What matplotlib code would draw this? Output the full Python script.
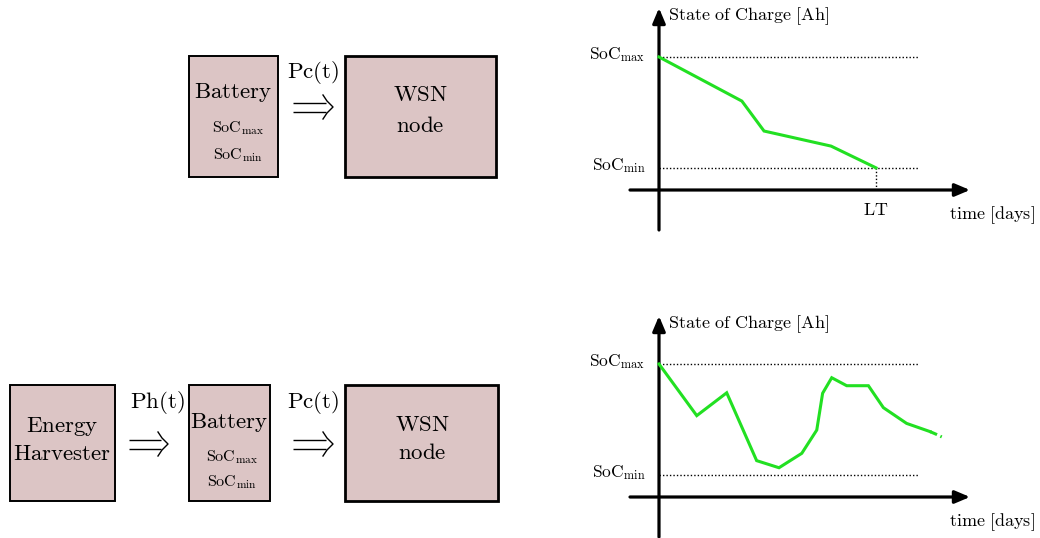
import matplotlib
matplotlib.use("Agg")
import matplotlib.pyplot as plt
from matplotlib.patches import Rectangle

plt.rcParams['mathtext.fontset'] = 'cm'
plt.rcParams['font.family'] = 'serif'
plt.rcParams['font.serif'] = ['cmr10']
plt.rcParams['axes.formatter.use_mathtext'] = True

# chart data (time in days, state of charge in Ah)
soc_max = 6.0
soc_min = 1.0
lt = 10.0
t_battery = [0.0, 3.82, 4.84, 7.93, 10.0]
soc_battery = [6.0, 4.01, 2.66, 1.98, 1.0]
t_harvest = [0.0, 1.74, 3.12, 4.50, 5.53, 6.58, 7.27, 7.54, 7.96, 8.65, 9.65, 10.34, 11.41, 12.49]
soc_harvest = [6.0, 3.67, 4.70, 1.64, 1.32, 1.97, 3.02, 4.68, 5.38, 5.02, 5.02, 4.03, 3.32, 2.95]
t_tail = [12.49, 12.75, 13.03]
soc_tail = [2.95, 2.84, 2.71]

W, H = 1040, 538
fig = plt.figure(figsize=(W / 100, H / 100), dpi=100)

# block diagrams drawn in pixel coordinates
ax0 = fig.add_axes([0, 0, 1, 1])
ax0.set_xlim(0, W)
ax0.set_ylim(H, 0)
ax0.axis('off')

fill = '#dcc5c5'
big = 16.5
small = 11.5


def box(x0, y0, x1, y1, lw):
    ax0.add_patch(Rectangle((x0, y0), x1 - x0, y1 - y0, facecolor=fill, edgecolor='black', lw=lw))


def txt(x, y, s, size=big):
    ax0.text(x, y, s, ha='center', va='center', fontsize=size)


def dbl_arrow(x0, x1, y):
    # latex style long double arrow
    for dy in (-4.5, 4.5):
        ax0.plot([x0, x1 - 7], [y + dy, y + dy], color='black', lw=1.0, solid_capstyle='butt')
    ax0.plot([x1 - 10, x1 - 6, x1, x1 - 6, x1 - 10], [y - 12, y - 6, y, y + 6, y + 12],
             color='black', lw=1.0)


# top diagram
box(189, 56, 278, 177, 1.4)
box(345, 56, 496, 177, 2.0)
txt(233, 93, r'$\mathrm{Battery}$')
txt(238, 128, r'$\mathrm{SoC}_{\mathrm{max}}$', small)
txt(238, 155, r'$\mathrm{SoC}_{\mathrm{min}}$', small)
txt(313, 72, r'$\mathrm{Pc(t)}$')
dbl_arrow(293, 333, 107)
txt(420, 95, r'$\mathrm{WSN}$')
txt(420, 126, r'$\mathrm{node}$')

# bottom diagram
box(10, 385, 115, 501, 1.4)
box(189, 385, 270, 501, 1.4)
box(345, 385, 498, 501, 2.0)
txt(62, 426, r'$\mathrm{Energy}$')
txt(62, 454, r'$\mathrm{Harvester}$')
txt(157, 403, r'$\mathrm{Ph(t)}$')
dbl_arrow(129, 168, 444)
txt(229, 423, r'$\mathrm{Battery}$')
txt(232, 457, r'$\mathrm{SoC}_{\mathrm{max}}$', small)
txt(232, 482, r'$\mathrm{SoC}_{\mathrm{min}}$', small)
txt(313, 403, r'$\mathrm{Pc(t)}$')
dbl_arrow(293, 333, 444)
txt(422, 425, r'$\mathrm{WSN}$')
txt(422, 453, r'$\mathrm{node}$')

# charts
px_day = 21.7
px_ah = 22.17
x_org = 659


def chart(y_org, top, bottom, t, soc, lifetime=False):
    ax = fig.add_axes([580 / W, (H - bottom) / H, 460 / W, (bottom - top) / H])
    ax.set_xlim((580 - x_org) / px_day, (1040 - x_org) / px_day)
    ax.set_ylim((y_org - bottom) / px_ah, (y_org - top) / px_ah)
    ax.axis('off')
    head = dict(arrowstyle='-|>,head_length=0.9,head_width=0.38', lw=2.3, color='black',
                shrinkA=0, shrinkB=0)
    ax.annotate('', xy=(0, (y_org - (top + 8)) / px_ah), xytext=(0, (y_org - (y_org + 40)) / px_ah),
                arrowprops=head)
    ax.annotate('', xy=((970 - x_org) / px_day, 0), xytext=((630 - x_org) / px_day, 0),
                arrowprops=head)
    ax.plot([0, 12], [soc_max, soc_max], color='black', lw=1.0, ls=(0, (1, 1.5)))
    ax.plot([0, 12], [soc_min, soc_min], color='black', lw=1.0, ls=(0, (1, 1.5)))
    ax.plot(t, soc, color='#22e022', lw=2.2, solid_joinstyle='miter', zorder=3)
    ax.text(-0.62, soc_max - 0.08, r'$\mathrm{SoC}_{\mathrm{max}}$', ha='right', va='baseline', fontsize=12.5)
    ax.text(-0.62, soc_min - 0.08, r'$\mathrm{SoC}_{\mathrm{min}}$', ha='right', va='baseline', fontsize=12.5)
    ax.text(0.4, (y_org - (top + 16)) / px_ah, r'$\mathrm{State\ of\ Charge\ [Ah]}$',
            ha='left', va='center', fontsize=13)
    ax.text(15.35, -1.14, r'$\mathrm{time\ [days]}$', ha='center', va='center', fontsize=13)
    if lifetime:
        ax.plot([lt, lt], [0, soc_min], color='black', lw=1.0, ls=(0, (1, 1.5)))
        ax.text(lt, -0.9, r'$\mathrm{LT}$', ha='center', va='center', fontsize=13)
    return ax


chart(190, 0, 250, t_battery, soc_battery, lifetime=True)
axb = chart(497, 308, 538, t_harvest, soc_harvest)
axb.plot(t_tail, soc_tail, color='#22e022', lw=2.2, ls=(0, (2.5, 1.2)), zorder=3)

fig.savefig('out.png', dpi=100)
